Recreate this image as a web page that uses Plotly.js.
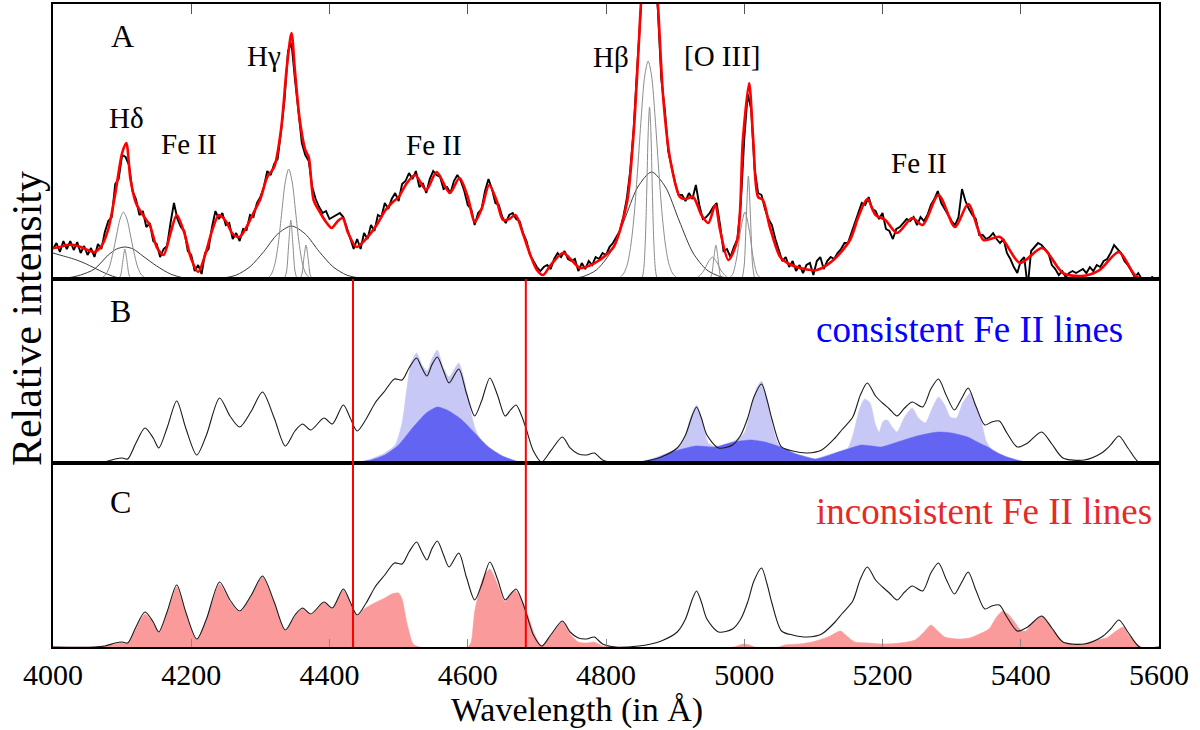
<!DOCTYPE html>
<html>
<head>
<meta charset="utf-8">
<script src="https://cdn.plot.ly/plotly-3.0.1.min.js"></script>
<style>html,body{margin:0;padding:0;background:#fff;}#chart{width:1200px;height:730px;}</style>
</head>
<body>
<div id="chart"></div>
<script>
// ---------- Panel A: observed spectrum (5 Å grid starting at 4000 Å) ----------
const obsStart = 4000, obsStep = 5;
const obsY = [
 30,36,27,38,30,38,29,37,26,33,24,31,22,35,30,47,58,62,95,100,
 124,122,114,88,80,64,68,52,56,38,35,22,30,33,56,76,60,52,48,28,
 24,8,14,5,26,30,52,68,60,66,54,56,40,46,38,50,49,64,62,76,
 82,92,108,104,115,120,148,180,228,236,200,170,136,124,118,92,80,72,66,68,
 60,62,64,66,62,52,40,30,40,30,46,40,54,48,64,62,76,70,80,86,
 78,95,98,106,100,108,92,96,86,100,108,104,102,90,92,86,98,104,98,88,
 74,70,54,66,70,88,100,90,76,74,62,56,64,66,60,58,46,38,24,18,
 12,8,12,14,10,20,26,22,28,20,18,20,8,16,10,18,14,22,20,26,
 24,32,36,42,48,62,80,108,150,210,275,320,340,335,310,270,200,170,128,112,
 96,84,84,78,86,80,94,74,60,62,66,72,76,54,28,30,22,32,40,75,
 140,185,170,110,86,84,70,60,54,40,30,18,22,12,18,8,14,6,14,16,
 4,18,22,10,18,22,20,26,30,36,36,46,56,68,76,74,82,70,68,60,
 66,50,48,40,50,52,56,60,58,62,54,62,58,64,74,80,88,76,70,64,
 58,54,62,90,78,70,64,60,44,44,40,42,46,40,36,40,26,20,12,6,
 18,22,-8,28,32,36,34,30,26,14,10,4,8,2,6,8,6,8,10,6,
 12,8,14,12,18,20,26,34,30,26,18,14,8,2,6,0,-6,-4,2,0,
 -2
];

// ---------- Panel A: total fit (red) ----------
const fitX = [
 4000,4010,4020,4030,4040,4050,4060,4070,4080,4090,
 4100,4106,4112,4120,4130,4140,4150,4160,4170,4179,
 4190,4200,4210,4220,4230,4240,4250,4260,4270,4280,
 4290,4300,4310,4320,4330,4338,4345,4350,4357,4365,
 4370,4377,4386,4395,4403,4412,4419,4427,4439,4450,
 4460,4470,4480,4490,4500,4512,4524,4540,4555,4574,
 4588,4600,4610,4620,4631,4642,4651,4660,4669,4680,
 4690,4700,4709,4720,4738,4750,4762,4775,4791,4800,
 4811,4820,4831,4840,4847,4852,4862,4870,4875,4883,
 4893,4907,4915,4926,4938,4948,4958,4965,4977,4990,
 4998,5007,5013,5020,5027,5037,5052,5065,5081,5105,
 5129,5153,5165,5178,5190,5204,5221,5243,5258,5281,
 5305,5324,5346,5370,5399,5431,5461,5488,5514,5542,
 5568,5600
];
const fitY = [
 31,32,34,34,32,29,27,33,50,85,
 126,136,100,76,64,54,32,24,46,64,
 46,20,7,24,48,64,58,45,42,52,
 66,80,102,112,150,210,246,208,159,129,
 122,79,67,57,51,58,61,46,32,38,
 46,56,68,76,82,96,104,89,107,86,
 101,82,57,70,94,78,59,60,64,45,
 25,9,4,14,26,19,11,13,19,24,
 32,48,79,146,229,290,345,320,276,179,
 119,82,80,82,64,56,74,49,19,39,
 139,196,139,82,79,52,22,15,11,9,
 19,39,62,80,64,59,46,61,54,84,
 52,75,39,42,16,31,6,3,9,27,
 2,1
];

// ---------- Panel A: fitted line components ----------
const compHeWingX = [4000,4015,4030,4045,4060,4075,4090,4105];
const compHeWingY = [26,23,20,16,11,6,2,0];
const compHdBroadX = [4000,4020,4040,4060,4080,4092,4104,4116,4130,4150,4170,4190,4210];
const compHdBroadY = [0,1,4,10,24,30,32,30,23,13,5,1,0];
const compHdMedX = [4067,4072,4077,4082,4087,4092,4097,4102,4107,4112,4117,4122,4127,4132,4137];
const compHdMedY = [0,1.7,5,13,27,44,60,67,60,44,27,13,5,1.7,0];
const compHdNarX = [4095,4098,4101,4104,4107,4110,4113];
const compHdNarY = [0,4,18,30,18,4,0];
const compHgBroadX = [4225,4245,4265,4285,4305,4325,4345,4365,4385,4405,4425,4445,4465];
const compHgBroadY = [0,0.9,3.9,12.3,27.5,45,53,45,27.5,12.3,3.9,0.9,0];
const compHgMedX = [4306,4311,4316,4321,4326,4331,4336,4341,4346,4351,4356,4361,4366,4371,4376];
const compHgMedY = [0,1.2,5,15,36,67,97,110,97,67,36,15,5,1.2,0];
const compHgNarX = [4335,4338,4341,4344,4347,4350,4353];
const compHgNarY = [0,8,35,59,35,8,0];
const comp4363X = [4357,4360,4363,4366,4369,4372,4375];
const comp4363Y = [0,4.6,21,34,21,4.6,0];
const compHbBroadX = [4726,4746,4766,4786,4806,4826,4846,4866,4886,4906,4926,4946,4966,4986,5006];
const compHbBroadY = [0,0.4,2.3,9,26,58,92,107,92,58,26,9,2.3,0.4,0];
const compHbMedX = [4816,4821,4826,4831,4836,4841,4846,4851,4856,4861,4866,4871,4876,4881,4886,4891,4896,4901,4906];
const compHbMedY = [0,2,6,15,34,66,112,162,203,218,203,162,112,66,34,15,6,2,0];
const compHbNarX = [4851,4853,4855,4857,4859,4861,4863,4865,4867,4869,4871,4873,4875];
const compHbNarY = [0,3,13,40,89,146,172,146,89,40,13,3,0];
const compO1BroadX = [4927,4934,4941,4948,4954,4960,4967,4974,4981];
const compO1BroadY = [0,2.4,7.9,17,22,17,7.9,2.4,0];
const compO1NarX = [4950,4953,4956,4959,4962,4965,4968];
const compO1NarY = [0,4.6,21,34,21,4.6,0];
const compO2BroadX = [4977,4983,4989,4995,5001,5007,5013,5019,5025];
const compO2BroadY = [0,4.4,21,50,67,50,21,4.4,0];
const compO2NarX = [4997,5000,5003,5006,5009,5012,5015];
const compO2NarY = [0,14,62,103,62,14,0];

// ---------- Panels B/C: total Fe II template ----------
const feX = [
 4000,4060,4075,4090,4100,4108,4120,4133,4145,4153,
 4165,4179,4192,4208,4222,4241,4256,4270,4287,4303,
 4320,4336,4350,4361,4373,4392,4404,4420,4430,4440,
 4453,4466,4480,4494,4505,4515,4526,4533,4541,4548,
 4556,4565,4573,4587,4598,4610,4620,4632,4643,4654,
 4662,4670,4678,4685,4695,4707,4720,4737,4748,4760,
 4772,4783,4795,4814,4847,4865,4880,4903,4915,4925,
 4931,4938,4946,4963,4983,4995,5005,5014,5025,5033,
 5040,5054,5070,5091,5112,5130,5141,5157,5168,5178,
 5190,5200,5210,5221,5232,5243,5258,5270,5281,5292,
 5304,5314,5324,5335,5348,5358,5369,5380,5395,5410,
 5430,5445,5461,5492,5517,5530,5542,5555,5572,5600
];
const feY = [
 0,0,1,4,5,4,20,35,25,15,
 35,62,35,8,28,65,47,36,52,71,
 45,17,32,39,33,45,39,58,45,32,
 44,60,72,84,83,95,105,96,87,98,
 106,92,80,94,70,47,62,85,68,47,
 53,58,47,33,12,1,12,26,15,9,
 8,10,3,0,1,3,6,15,28,48,
 56,45,28,15,18,28,45,66,79,63,
 44,16,12,10,13,24,33,46,68,80,
 67,60,54,47,55,61,56,74,84,68,
 53,64,75,57,38,41,42,30,16,20,
 31,19,5,3,10,18,27,15,0,0
];

// ---------- Panel B: consistent Fe II lines ----------
const consX = [
 4000,4440,4460,4480,4495,4505,4512,4518,4526,4534,
 4541,4548,4556,4565,4573,4587,4596,4604,4612,4625,
 4640,4660,4680,4840,4870,4900,4912,4922,4931,4940,
 4948,4960,4985,5000,5010,5018,5025,5032,5040,5050,
 5070,5090,5103,5120,5136,5150,5158,5166,5174,5182,
 5190,5195,5201,5207,5214,5221,5232,5243,5252,5262,
 5272,5281,5290,5298,5307,5316,5327,5335,5342,5350,
 5360,5380,5400,5420,5600
];
const consY = [
 0,0,4,10,18,40,75,100,110,98,
 92,104,113,95,86,100,80,52,32,16,
 10,4,0,0,5,14,22,45,58,40,
 20,16,22,30,55,75,82,68,40,18,
 10,6,4,8,11,15,30,52,64,60,
 38,31,42,43,36,31,46,55,45,40,
 55,66,58,46,45,60,70,58,45,22,
 12,6,2,0,0
];
const consMainX = [
 4000,4430,4440,4460,4480,4500,4520,4540,4556,4570,
 4590,4610,4630,4650,4670,4685,4840,4870,4900,4930,
 4957,4985,5010,5030,5052,5075,5090,5103,5120,5136,
 5150,5169,5185,5198,5222,5250,5280,5300,5323,5340,
 5352,5367,5380,5400,5420,5600
];
const consMainY = [
 0,0,1,3,8,18,35,50,56,53,
 44,30,16,7,2,0,0,4,12,17,
 16,21,23,21,16,9,6,4,7,11,
 14,18,17,16,21,27,31,30,26,20,
 16,10,6,2,0,0
];

// ---------- Panel C: inconsistent Fe II lines ----------
const incX = [
 4000,4060,4075,4090,4100,4108,4120,4133,4145,4153,
 4165,4179,4192,4208,4222,4241,4256,4270,4287,4303,
 4320,4336,4350,4361,4373,4392,4404,4420,4430,4440,
 4450,4465,4480,4490,4500,4505,4512,4521,4530,4600,
 4605,4610,4622,4632,4643,4654,4668,4679,4688,4697,
 4707,4720,4737,4748,4760,4772,4783,4795,4810,4985,
 4993,5000,5008,5015,5050,5058,5080,5098,5121,5139,
 5150,5160,5180,5200,5225,5247,5260,5270,5280,5290,
 5310,5326,5340,5354,5365,5374,5383,5390,5400,5407,
 5420,5432,5445,5461,5490,5510,5524,5540,5548,5558,
 5574,5600
];
const incY = [
 0,0,1,3,4,3,18,33,24,14,
 33,60,33,7,27,63,45,35,51,70,
 44,16,31,38,32,44,38,57,44,31,
 38,44,49,53,54,48,24,3,0,0,
 5,35,69,78,63,45,57,45,30,12,
 1,11,25,13,5,4,5,1,0,0,
 2,3,2,0,0,2,3,5,10,16,
 10,5,4,3,4,7,15,22,16,10,
 8,9,13,18,30,36,32,26,17,16,
 26,31,19,5,3,7,9,17,20,10,
 0,0
];

// ---------- window boundaries (red vertical lines) ----------
const windowEdges = [4434, 4684];
const xTickVals = [4000,4200,4400,4600,4800,5000,5200,5400,5600];

// ---------- build ----------
const obsX = obsY.map((_, i) => obsStart + i * obsStep);
const FONT = 'Liberation Serif';
const traces = [];
function comp(x, y, col) {
  traces.push({x, y, xaxis:'x', yaxis:'y', type:'scatter', mode:'lines',
    line:{color:col, width:1, shape:'spline', smoothing:0.8}, hoverinfo:'skip'});
}
const BROAD = '#3a3a3a', THIN = '#8c8c8c';
comp(compHeWingX, compHeWingY, BROAD);
comp(compHdBroadX, compHdBroadY, BROAD);
comp(compHdMedX, compHdMedY, THIN);
comp(compHdNarX, compHdNarY, THIN);
comp(compHgBroadX, compHgBroadY, BROAD);
comp(compHgMedX, compHgMedY, THIN);
comp(compHgNarX, compHgNarY, THIN);
comp(comp4363X, comp4363Y, THIN);
comp(compHbBroadX, compHbBroadY, BROAD);
comp(compHbMedX, compHbMedY, THIN);
comp(compHbNarX, compHbNarY, THIN);
comp(compO1BroadX, compO1BroadY, THIN);
comp(compO1NarX, compO1NarY, THIN);
comp(compO2BroadX, compO2BroadY, THIN);
comp(compO2NarX, compO2NarY, THIN);

traces.push({x:obsX, y:obsY, xaxis:'x', yaxis:'y', type:'scatter', mode:'lines',
  line:{color:'#000', width:1.9}});
traces.push({x:fitX, y:fitY, xaxis:'x', yaxis:'y', type:'scatter', mode:'lines',
  line:{color:'#ff0000', width:2.6, shape:'spline', smoothing:0.8}});

// Panel B
traces.push({x:consX, y:consY, xaxis:'x2', yaxis:'y2', type:'scatter', mode:'lines',
  fill:'tozeroy', fillcolor:'#c8c8f7', line:{color:'#c8c8f7', width:0.5, shape:'spline', smoothing:0.6}});
traces.push({x:consMainX, y:consMainY, xaxis:'x2', yaxis:'y2', type:'scatter', mode:'lines',
  fill:'tozeroy', fillcolor:'#6464f2', line:{color:'#6464f2', width:0.5, shape:'spline', smoothing:0.6}});
traces.push({x:feX, y:feY, xaxis:'x2', yaxis:'y2', type:'scatter', mode:'lines',
  line:{color:'#1a1a1a', width:1.1, shape:'spline', smoothing:0.8}});

// Panel C
traces.push({x:incX, y:incY, xaxis:'x3', yaxis:'y3', type:'scatter', mode:'lines',
  fill:'tozeroy', fillcolor:'#fb9a9a', line:{color:'#fb9a9a', width:0.5, shape:'spline', smoothing:0.6}});
traces.push({x:feX, y:feY, xaxis:'x3', yaxis:'y3', type:'scatter', mode:'lines',
  line:{color:'#1a1a1a', width:1.1, shape:'spline', smoothing:0.8}});

const axBase = {range:[4000,5600], showline:true, mirror:true, linecolor:'#000', linewidth:2,
  showgrid:false, zeroline:false, fixedrange:true};
const yBase = {showline:true, mirror:true, linecolor:'#000', linewidth:2, ticks:'',
  showticklabels:false, showgrid:false, zeroline:false, fixedrange:true};

const annFont = (s, c) => ({family:FONT, size:s, color:c || '#000'});
const ann = (text, x, y, xref, yref, size, extra) => Object.assign(
  {text, x, y, xref, yref, showarrow:false, font:annFont(size), xanchor:'center', yanchor:'middle'}, extra || {});

const layout = {
  width:1200, height:730,
  margin:{l:53, r:41, t:4, b:83},
  paper_bgcolor:'#fff', plot_bgcolor:'#fff',
  showlegend:false,
  font:{family:FONT, color:'#000'},
  xaxis: Object.assign({}, axBase, {anchor:'y', side:'top', ticks:'inside', ticklen:10, tickwidth:1,
    tickcolor:'#555', tickvals:xTickVals, showticklabels:false}),
  yaxis: Object.assign({}, yBase, {domain:[0.5723,1], anchor:'x', range:[0,275]}),
  xaxis2: Object.assign({}, axBase, {anchor:'y2', ticks:'', showticklabels:false}),
  yaxis2: Object.assign({}, yBase, {domain:[0.2862,0.5723], anchor:'x2', range:[0,184]}),
  xaxis3: Object.assign({}, axBase, {anchor:'y3', ticks:'inside', ticklen:8, tickwidth:1, tickcolor:'#888',
    tickvals:xTickVals, ticktext:xTickVals.map(String), tickfont:annFont(30)}),
  yaxis3: Object.assign({}, yBase, {domain:[0,0.2862], anchor:'x3', range:[0,184]}),
  shapes: windowEdges.map(v => ({type:'line', xref:'x3', yref:'paper', x0:v, x1:v, y0:0, y1:0.5723,
    line:{color:'#ff0000', width:2}, layer:'above'})),
  annotations: [
    ann('Wavelength (in Å)', 0.474, -0.1291, 'paper', 'paper', 34, {yanchor:'bottom', borderpad:0}),
    ann('Relative intensity', -0.0235, 0.51, 'paper', 'paper', 42, {textangle:-90}),
    ann('A', 4100, 243, 'x', 'y', 32),
    ann('Hδ', 4107, 161, 'x', 'y', 29),
    ann('Fe II', 4197, 135, 'x', 'y', 29),
    ann('Hγ', 4305, 223, 'x', 'y', 29),
    ann('Fe II', 4551, 134, 'x', 'y', 29),
    ann('Hβ', 4807, 222, 'x', 'y', 29),
    ann('[O III]', 4968, 223, 'x', 'y', 29),
    ann('Fe II', 5253, 116, 'x', 'y', 29),
    ann('B', 4097, 152, 'x2', 'y2', 32),
    ann('C', 4098, 145, 'x3', 'y3', 32),
    ann('consistent Fe II lines', 5101, 134, 'x2', 'y2', 37,
      {xanchor:'left', font:annFont(37, '#0000ff')}),
    ann('inconsistent Fe II lines', 5101, 135, 'x3', 'y3', 37,
      {xanchor:'left', font:annFont(37, '#e52a2a')})
  ]
};

Plotly.newPlot('chart', traces, layout, {displayModeBar:false, staticPlot:true});
</script>
</body>
</html>
